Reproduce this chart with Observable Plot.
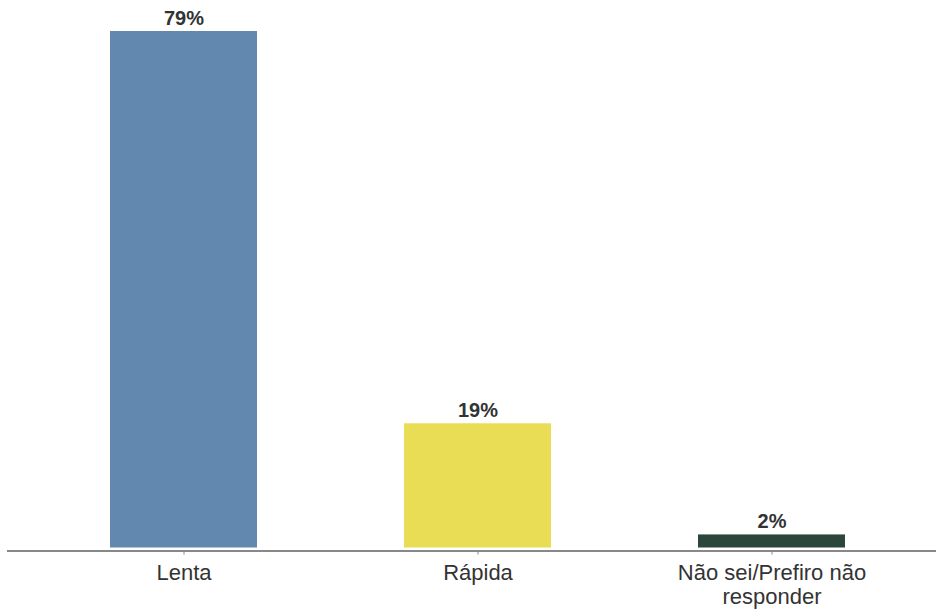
<!DOCTYPE html>
<html>
<head>
<meta charset="utf-8">
<script src="https://cdn.jsdelivr.net/npm/d3@7"></script>
<script src="https://cdn.jsdelivr.net/npm/@observablehq/plot@0.6"></script>
<style>
  html, body { margin: 0; padding: 0; background: #fff; }
  #chart svg { display: block; }
</style>
</head>
<body>
<div id="chart"></div>
<script>
const categories = ["Lenta", "Rápida", "Não sei/Prefiro não responder"];
const tickLabels = ["Lenta", "Rápida", "Não sei/Prefiro não\nresponder"];
const values = [79, 19, 2];
const colors = ["#6388b0", "#e8dd54", "#2b473c"];

const data = categories.map((c, i) => ({category: c, value: values[i], label: values[i] + "%"}));

const chart = Plot.plot({
  width: 936,
  height: 610,
  marginTop: 31,
  marginBottom: 62.5,
  marginLeft: 7,
  marginRight: 0,
  style: {fontFamily: "'Liberation Sans', Arial, sans-serif", background: "#fff"},
  x: {domain: categories, range: [110, 845], paddingInner: 0.5, paddingOuter: 0},
  y: {domain: [0, 79], axis: null},
  color: {domain: categories, range: colors},
  marks: [
    Plot.barY(data, {x: "category", y: "value", fill: "category"}),
    Plot.text(data, {x: "category", y: "value", text: "label", dy: -7, lineAnchor: "bottom",
      fontSize: 20, fontWeight: "bold", fill: "#333"}),
    Plot.ruleY([0], {dy: 3, stroke: "#888", strokeWidth: 2}),
    Plot.axisX({
      tickFormat: (d) => tickLabels[categories.indexOf(d)],
      tickSize: 4, dy: 3, tickPadding: 8, stroke: "#888",
      fontSize: 22, lineHeight: 1.08, fill: "#333", label: null
    })
  ]
});
document.getElementById("chart").appendChild(chart);
</script>
</body>
</html>
